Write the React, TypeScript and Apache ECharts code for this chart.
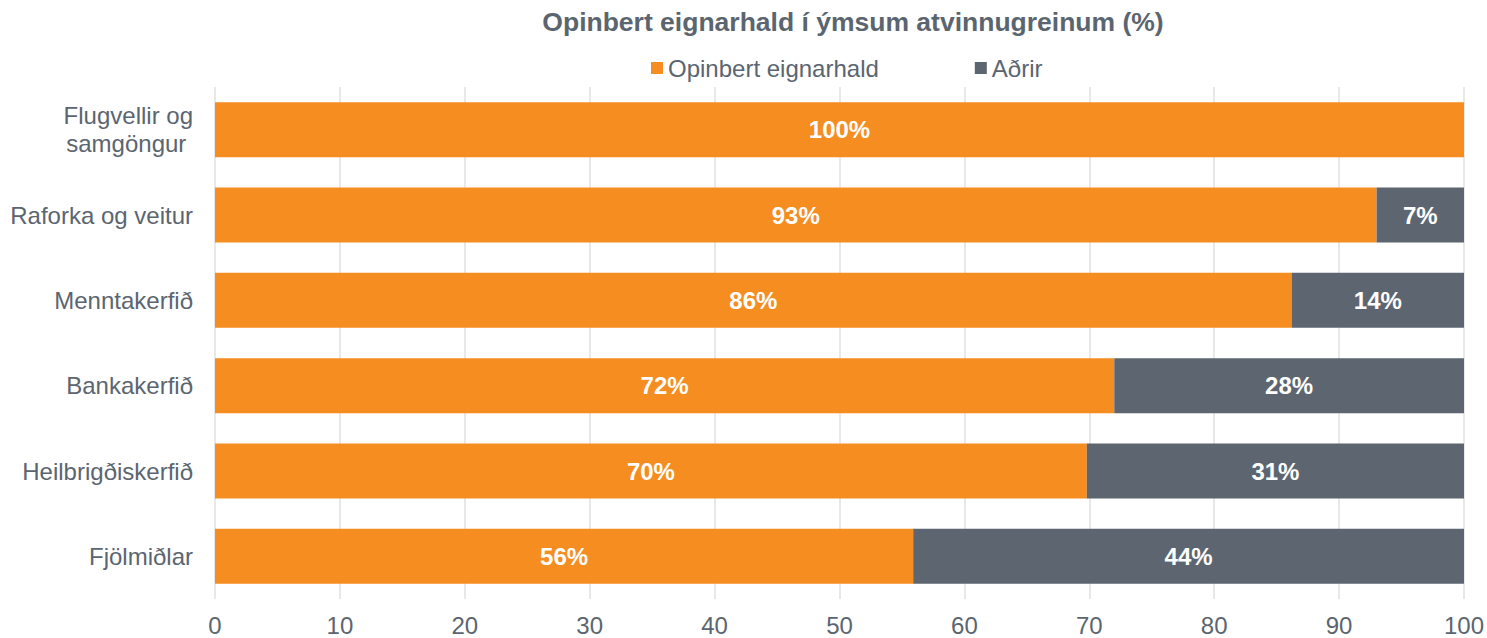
import React, { useEffect, useRef } from "react";
import * as echarts from "echarts";

const categories = [
  "Flugvellir og\nsamgöngur ",
  "Raforka og veitur",
  "Menntakerfið",
  "Bankakerfið",
  "Heilbrigðiskerfið",
  "Fjölmiðlar",
];
const publicOwnership = [100, 93, 86.2, 72, 69.8, 55.9];
const others = [0, 7, 13.8, 28, 30.5, 44.1];
const xTicks = [0, 10, 20, 30, 40, 50, 60, 70, 80, 90, 100];

const TEXT = "#5B6570";
const ORANGE = "#F58D20";
const GREY = "#5D6670";
const FONT = "Liberation Sans, Arial, sans-serif";

export default function App() {
  const ref = useRef<HTMLDivElement>(null);
  useEffect(() => {
    document.body.style.margin = "0";
    document.body.style.overflow = "hidden";
    if (!ref.current) return;
    const chart = echarts.init(ref.current, undefined, { renderer: "svg" });
    const labelCfg = {
      show: true,
      position: "inside",
      color: "#ffffff",
      fontWeight: "bold",
      fontSize: 24,
      fontFamily: FONT,
      formatter: (p: any) => (p.value > 0 ? Math.round(p.value) + "%" : ""),
    };
    chart.setOption({
      animation: false,
      textStyle: { fontFamily: FONT },
      title: {
        text: "Opinbert eignarhald í ýmsum atvinnugreinum (%)",
        left: 848,
        top: 3,
        textAlign: "center",
        textStyle: { color: TEXT, fontSize: 26.5, fontWeight: "bold", fontFamily: FONT },
      },
      legend: {
        top: 51,
        left: 646,
        itemWidth: 12,
        itemHeight: 12,
        itemGap: 96,
        icon: "rect",
        textStyle: { color: TEXT, fontSize: 24, fontFamily: FONT },
        data: ["Opinbert eignarhald", "Aðrir"],
      },
      grid: { left: 215, right: 23, top: 87, bottom: 39, containLabel: false, outerBoundsMode: "none" },
      xAxis: {
        type: "value",
        min: 0,
        max: 100,
        interval: 10,
        axisLine: { show: false },
        axisTick: { show: false },
        axisLabel: {
          color: TEXT,
          fontSize: 24,
          margin: 14,
          formatter: (v: number) => (xTicks.includes(v) ? String(v) : ""),
        },
        splitLine: { show: true, lineStyle: { color: "#E1E1E1", width: 1.5 } },
      },
      yAxis: {
        type: "category",
        inverse: true,
        data: categories,
        axisLine: { show: false },
        axisTick: { show: false },
        axisLabel: { color: TEXT, fontSize: 24, margin: 22, lineHeight: 28 },
      },
      series: [
        {
          name: "Opinbert eignarhald",
          type: "bar",
          stack: "total",
          barWidth: 55,
          itemStyle: { color: ORANGE },
          label: labelCfg,
          data: publicOwnership,
        },
        {
          name: "Aðrir",
          type: "bar",
          stack: "total",
          barWidth: 55,
          itemStyle: { color: GREY },
          label: labelCfg,
          data: others,
        },
      ],
    });
    return () => chart.dispose();
  }, []);
  return <div ref={ref} style={{ width: 1487, height: 638 }} />;
}
